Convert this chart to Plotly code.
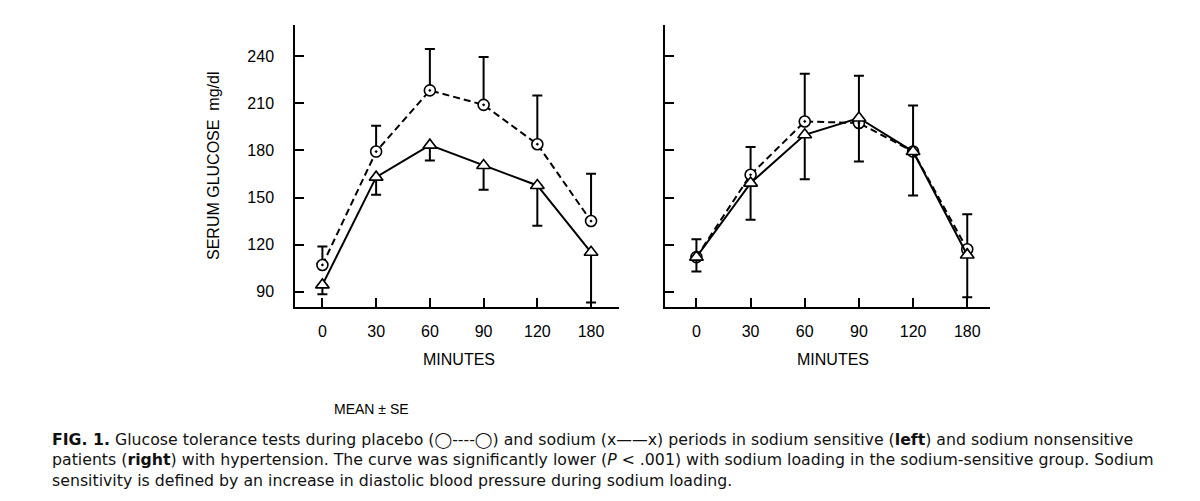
import plotly.graph_objects as go

minutes = ["0", "30", "60", "90", "120", "180"]

# Left panel: sodium sensitive
left_placebo = [107, 179.3, 218.3, 209.1, 184, 135]
left_placebo_se = [11.7, 16.4, 26.4, 30.5, 31, 30.1]
left_sodium = [94.3, 163, 183.4, 170.4, 157.7, 115.1]
left_sodium_se = [6, 11.3, 9.8, 15.5, 25.7, 32.1]

# Right panel: sodium nonsensitive
right_placebo = [112, 164.5, 198.5, 197.5, 179.3, 117]
right_placebo_se = [11.4, 17.7, 30.4, 30.2, 29.4, 22.4]
right_sodium = [112, 159.2, 190, 200.7, 179.3, 113.4]
right_sodium_se = [9.2, 23.4, 28.3, 27.7, 28, 27]

y_ticks = [90, 120, 150, 180, 210, 240]

FONT = "Liberation Sans, Arial, sans-serif"
CAP_FONT = "DejaVu Sans, Verdana, sans-serif"

fig = go.Figure()


def add_panel(xa, ya, placebo, placebo_se, sodium, sodium_se):
    fig.add_trace(go.Scatter(
        x=minutes, y=placebo, xaxis=xa, yaxis=ya, mode="lines+markers",
        line=dict(color="black", width=2, dash="7px,4px"),
        marker=dict(symbol="circle-dot", size=11, color="white",
                    line=dict(color="black", width=1.6)),
        error_y=dict(type="data", symmetric=False, array=placebo_se,
                     arrayminus=[0] * len(placebo_se), color="black",
                     thickness=2, width=5),
        showlegend=False, cliponaxis=False,
    ))
    fig.add_trace(go.Scatter(
        x=minutes, y=sodium, xaxis=xa, yaxis=ya, mode="lines+markers",
        line=dict(color="black", width=2),
        marker=dict(symbol="triangle-up", size=12, color="white",
                    line=dict(color="black", width=1.6)),
        error_y=dict(type="data", symmetric=False, array=[0] * len(sodium_se),
                     arrayminus=sodium_se, color="black",
                     thickness=2, width=5),
        showlegend=False, cliponaxis=False,
    ))


add_panel("x", "y", left_placebo, left_placebo_se, left_sodium, left_sodium_se)
add_panel("x2", "y2", right_placebo, right_placebo_se, right_sodium, right_sodium_se)

# page body has an 8px margin: figure is drawn at offset (8, 8)
OFF = 8
W, H = 1200 - OFF, 501 - OFF


def px(x):
    return (x - OFF) / W


def py(y):
    return 1 - (y - OFF) / H


ydom = [py(307), py(25)]
yrange = [80.2, 260]

axis_common = dict(showgrid=False, zeroline=False, showline=True, linecolor="black",
                   linewidth=1.5, ticks="inside", ticklen=9, tickwidth=1.5,
                   tickcolor="black", tickfont=dict(family=FONT, size=16, color="black"))

fig.update_layout(
    width=W, height=H,
    margin=dict(l=0, r=0, t=0, b=0),
    paper_bgcolor="white", plot_bgcolor="white",
    xaxis=dict(domain=[px(295), px(619)], type="category", range=[-0.51, 5.52],
               anchor="y", ticklabelstandoff=9, **axis_common),
    yaxis=dict(domain=ydom, range=yrange, tickvals=y_ticks, anchor="x",
               ticklabelstandoff=16, **axis_common),
    xaxis2=dict(domain=[px(665), px(990)], type="category", range=[-0.58, 5.42],
                anchor="y2", ticklabelstandoff=9, **axis_common),
    yaxis2=dict(domain=ydom, range=yrange, tickvals=y_ticks, anchor="x2",
                showticklabels=False, **axis_common),
)

ann = []
ann.append(dict(text="SERUM GLUCOSE  mg/dl", x=px(213), y=py(166), xref="paper",
                yref="paper", textangle=-90, showarrow=False, xanchor="center",
                yanchor="middle", font=dict(family=FONT, size=16, color="black")))
for cx in (459, 833):
    ann.append(dict(text="MINUTES", x=px(cx), y=py(359), xref="paper", yref="paper",
                    xanchor="center", yanchor="middle", showarrow=False,
                    font=dict(family=FONT, size=16, color="black")))
ann.append(dict(text="MEAN ± SE", x=px(371), y=py(409), xref="paper", yref="paper",
                xanchor="center", yanchor="middle", showarrow=False,
                font=dict(family=FONT, size=14, color="black")))

caption = [
    "<b>FIG. 1.</b> Glucose tolerance tests during placebo (◯----◯) and sodium (x——x) periods in sodium sensitive (<b>left</b>) and sodium nonsensitive",
    "patients (<b>right</b>) with hypertension. The curve was significantly lower (<i>P</i> < .001) with sodium loading in the sodium-sensitive group. Sodium",
    "sensitivity is defined by an increase in diastolic blood pressure during sodium loading.",
]
for i, line in enumerate(caption):
    ann.append(dict(text=line, x=px(50), y=py(439 + 20.5 * i), xref="paper",
                    yref="paper", xanchor="left", yanchor="middle", showarrow=False,
                    align="left", font=dict(family=CAP_FONT, size=15.75, color="#111")))

fig.update_layout(annotations=ann)
fig.write_html("out.html")
